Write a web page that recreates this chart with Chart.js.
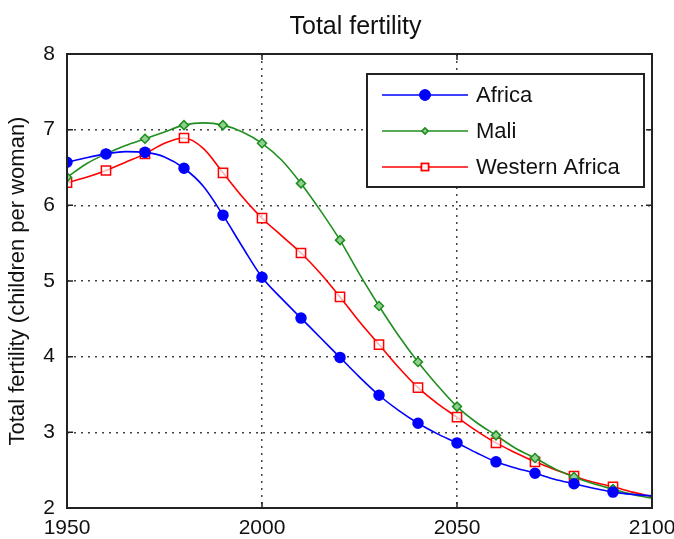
<!DOCTYPE html>
<html>
<head>
<meta charset="utf-8">
<script src="https://cdn.jsdelivr.net/npm/chart.js@4"></script>
<style>
  html, body { margin: 0; padding: 0; background: #fff; }
  #wrap { width: 674px; height: 539px; }
</style>
</head>
<body>
<div id="wrap"><canvas id="fert" width="674" height="539"></canvas></div>
<script>
// 5-year steps, markers drawn on the decades
const years = [1950, 1955, 1960, 1965, 1970, 1975, 1980, 1985, 1990, 1995,
               2000, 2005, 2010, 2015, 2020, 2025, 2030, 2035, 2040, 2045,
               2050, 2055, 2060, 2065, 2070, 2075, 2080, 2085, 2090, 2095, 2100];

const africa = [6.57, 6.63, 6.68, 6.71, 6.70, 6.64, 6.49, 6.25, 5.87, 5.45,
                5.05, 4.77, 4.51, 4.25, 3.99, 3.73, 3.49, 3.29, 3.12, 2.98,
                2.86, 2.73, 2.61, 2.53, 2.46, 2.38, 2.32, 2.26, 2.21, 2.18, 2.16];

const mali = [6.37, 6.55, 6.68, 6.79, 6.88, 6.97, 7.06, 7.09, 7.06, 6.97,
              6.82, 6.60, 6.29, 5.93, 5.54, 5.09, 4.67, 4.28, 3.93, 3.62,
              3.34, 3.13, 2.96, 2.79, 2.66, 2.52, 2.41, 2.32, 2.25, 2.18, 2.13];

const westernAfrica = [6.30, 6.37, 6.46, 6.57, 6.68, 6.82, 6.89, 6.75, 6.43, 6.11,
                       5.83, 5.60, 5.37, 5.10, 4.79, 4.46, 4.16, 3.86, 3.59, 3.38,
                       3.20, 3.02, 2.86, 2.73, 2.61, 2.51, 2.42, 2.34, 2.28, 2.21, 2.15];

const xTicks = [1950, 2000, 2050, 2100];
const yTicks = [2, 3, 4, 5, 6, 7, 8];

const FONT = '"Liberation Sans", Arial, sans-serif';

function pts(vals) {
    return years.map((y, i) => ({ x: y, y: vals[i] }));
}
// marker on every decade except the last year
function markers(r) {
    return years.map((y, i) => (y % 10 === 0 && y !== 2100) ? r : 0);
}

const series = [
    { label: 'Africa', data: africa, color: '#0000ff', fill: '#0000ff', style: 'circle', r: 5 },
    { label: 'Mali', data: mali, color: '#1f8f1f', fill: '#8fcf8f', style: 'rectRot', r: 4.5 },
    { label: 'Western Africa', data: westernAfrica, color: '#ff0000', fill: 'rgba(255,255,255,0.7)', style: 'rect', r: 6.5 }
];

// title, box, inward ticks and the legend, matlab style
const matlabFrame = {
    id: 'matlabFrame',
    afterDraw(chart) {
        const ctx = chart.ctx;
        const a = chart.chartArea;
        const xs = chart.scales.x, ys = chart.scales.y;
        ctx.save();
        ctx.strokeStyle = '#222';
        ctx.lineWidth = 2;
        ctx.strokeRect(a.left, a.top, a.right - a.left, a.bottom - a.top);

        ctx.lineWidth = 1.5;
        ctx.beginPath();
        xTicks.forEach(t => {
            const px = xs.getPixelForValue(t);
            ctx.moveTo(px, a.bottom); ctx.lineTo(px, a.bottom - 6);
            ctx.moveTo(px, a.top); ctx.lineTo(px, a.top + 6);
        });
        yTicks.forEach(t => {
            const py = ys.getPixelForValue(t);
            ctx.moveTo(a.left, py); ctx.lineTo(a.left + 6, py);
            ctx.moveTo(a.right, py); ctx.lineTo(a.right - 6, py);
        });
        ctx.stroke();

        // title
        ctx.fillStyle = '#111';
        ctx.font = '25px ' + FONT;
        ctx.textAlign = 'center';
        ctx.textBaseline = 'middle';
        ctx.fillText('Total fertility', (a.left + a.right) / 2 - 4, 27);

        // legend box
        const lx = a.left + 300, ly = a.top + 20, lw = 277, lh = 113;
        ctx.fillStyle = '#fff';
        ctx.fillRect(lx, ly, lw, lh);
        ctx.strokeStyle = '#222';
        ctx.lineWidth = 2;
        ctx.strokeRect(lx, ly, lw, lh);
        series.forEach((s, i) => {
            const cy = ly + 21 + i * 36;
            ctx.strokeStyle = s.color;
            ctx.lineWidth = 1.5;
            ctx.beginPath();
            ctx.moveTo(lx + 15, cy); ctx.lineTo(lx + 101, cy);
            ctx.stroke();
            ctx.fillStyle = s.fill;
            Chart.helpers.drawPoint(ctx, { pointStyle: s.style, radius: i === 1 ? 3 : 5, borderWidth: 1.5 }, lx + 58, cy);
            ctx.fill();
            ctx.stroke();
            ctx.fillStyle = '#111';
            ctx.font = '22px ' + FONT;
            ctx.textAlign = 'left';
            ctx.fillText(s.label, lx + 109, cy + 1);
        });
        ctx.restore();
    }
};

new Chart(document.getElementById('fert'), {
    type: 'line',
    data: {
        datasets: series.map(s => ({
            label: s.label,
            data: pts(s.data),
            borderColor: s.color,
            backgroundColor: s.fill,
            borderWidth: 1.6,
            pointStyle: s.style,
            pointRadius: markers(s.r),
            pointBorderColor: s.color,
            pointBackgroundColor: s.fill,
            pointBorderWidth: 1.5,
            cubicInterpolationMode: 'monotone'
        }))
    },
    options: {
        responsive: false,
        animation: false,
        layout: { padding: { top: 54, right: 22, left: 0, bottom: 0 } },
        plugins: {
            legend: { display: false },
            title: { display: false },
            tooltip: { enabled: false }
        },
        scales: {
            x: {
                type: 'linear',
                min: 1950,
                max: 2100,
                afterBuildTicks: s => { s.ticks = xTicks.map(v => ({ value: v })); },
                afterFit: s => { s.height = 31; s.paddingLeft = 0; s.paddingRight = 0; },
                ticks: {
                    color: '#111', font: { family: FONT, size: 21 }, padding: 8, maxRotation: 0,
                    callback: v => String(v)
                },
                grid: { color: '#444', lineWidth: 1.5, drawTicks: false },
                border: { display: false, dash: [2, 5] }
            },
            y: {
                min: 2,
                max: 8,
                afterBuildTicks: s => { s.ticks = yTicks.map(v => ({ value: v })); },
                afterFit: s => { s.width = 67; s.paddingTop = 0; s.paddingBottom = 0; },
                ticks: { color: '#111', font: { family: FONT, size: 21 }, padding: 12, callback: v => String(v) },
                grid: { color: '#444', lineWidth: 1.5, drawTicks: false },
                border: { display: false, dash: [2, 5] },
                title: {
                    display: true,
                    text: 'Total fertility (children per woman)',
                    color: '#111',
                    font: { family: FONT, size: 22 },
                    padding: { top: 5, bottom: 0 }
                }
            }
        }
    },
    plugins: [matlabFrame]
});
</script>
</body>
</html>
